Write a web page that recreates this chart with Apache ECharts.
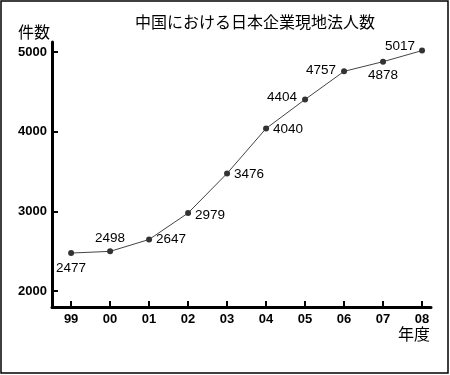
<!DOCTYPE html>
<html>
<head>
<meta charset="utf-8">
<script src="https://cdn.jsdelivr.net/npm/echarts@6/dist/echarts.min.js"></script>
<style>
html,body{margin:0;padding:0;background:#fff;}
#chart{width:450px;height:375px;}
</style>
</head>
<body>
<div id="chart"></div>
<script>
var title = '中国における日本企業現地法人数';
var yName = '件数';
var xName = '年度';
var categories = ['99','00','01','02','03','04','05','06','07','08'];
var values = [2477, 2498, 2647, 2979, 3476, 4040, 4404, 4757, 4878, 5017];
var yTicks = [2000, 3000, 4000, 5000];

var labelFont = '"Liberation Sans","Arial",sans-serif';
var axisFont = '"Liberation Sans","DejaVu Sans",sans-serif';
var cjkFont = '"Noto Sans CJK JP","Noto Sans",sans-serif';

// label placement per point (style only)
var placement = [
  {position:'bottom', distance:5, offset:[0,0]},
  {position:'top', distance:3, offset:[0,0]},
  {position:'right', distance:4, offset:[0,0]},
  {position:'right', distance:4, offset:[0,2]},
  {position:'right', distance:4, offset:[0,1]},
  {position:'right', distance:4, offset:[0,1]},
  {position:'left', distance:5, offset:[0,-2]},
  {position:'left', distance:5, offset:[0,-1]},
  {position:'bottom', distance:4, offset:[0,0]},
  {position:'left', distance:4, offset:[0,-4]}
];

var seriesData = values.map(function(v, i){
  return {
    value: [i, v],
    label: {
      show: true,
      position: placement[i].position,
      distance: placement[i].distance,
      offset: placement[i].offset
    }
  };
});

var chart = echarts.init(document.getElementById('chart'), null, {renderer:'canvas'});
chart.setOption({
  animation: false,
  backgroundColor: '#fff',
  title: {
    text: title,
    left: 250,
    textAlign: 'center',
    top: 9,
    textStyle: {fontFamily: cjkFont, fontSize: 16, fontWeight: 'normal', color: '#000'}
  },
  graphic: [
    {type:'rect', shape:{x:1, y:1, width:447, height:372}, style:{fill:'none', stroke:'#000', lineWidth:1.5}, silent:true, z:100},
    {type:'text', left: 18, top: 24, style:{text: yName, font: '16px ' + cjkFont, fill:'#000'}},
    {type:'text', left: 398, top: 326, style:{text: xName, font: '16px ' + cjkFont, fill:'#000'}}
  ],
  grid: {left: 52, top: 42, width: 379, height: 265, containLabel: false},
  xAxis: {
    type: 'value',
    min: -0.49,
    max: 9.23,
    splitLine: {show:false},
    axisLine: {show:true, onZero:false, lineStyle:{color:'#000', width:3}},
    axisTick: {show:true, inside:true, length:6, lineStyle:{color:'#000', width:2},
      customValues: categories.map(function(c,i){return i;})},
    axisLabel: {
      customValues: categories.map(function(c,i){return i;}),
      formatter: function(v){ return categories[Math.round(v)]; },
      color:'#000', fontFamily: axisFont, fontWeight:'bold', fontSize: 13, margin: 6
    }
  },
  yAxis: {
    type: 'value',
    min: 1800,
    max: 5125,
    splitLine: {show:false},
    axisLine: {show:true, onZero:false, lineStyle:{color:'#000', width:3}},
    axisTick: {show:true, inside:true, length:6, lineStyle:{color:'#000', width:2}, customValues: yTicks},
    axisLabel: {customValues: yTicks, formatter: function(v){ return String(v); },
      color:'#000', fontFamily: axisFont, fontWeight:'bold', fontSize: 13, margin: 5}
  },
  series: [{
    type: 'line',
    data: seriesData,
    symbol: 'circle',
    symbolSize: 6,
    itemStyle: {color:'#333'},
    lineStyle: {color:'#444', width:1},
    label: {color:'#000', fontFamily: labelFont, fontSize: 13.5}
  }]
});
</script>
</body>
</html>
